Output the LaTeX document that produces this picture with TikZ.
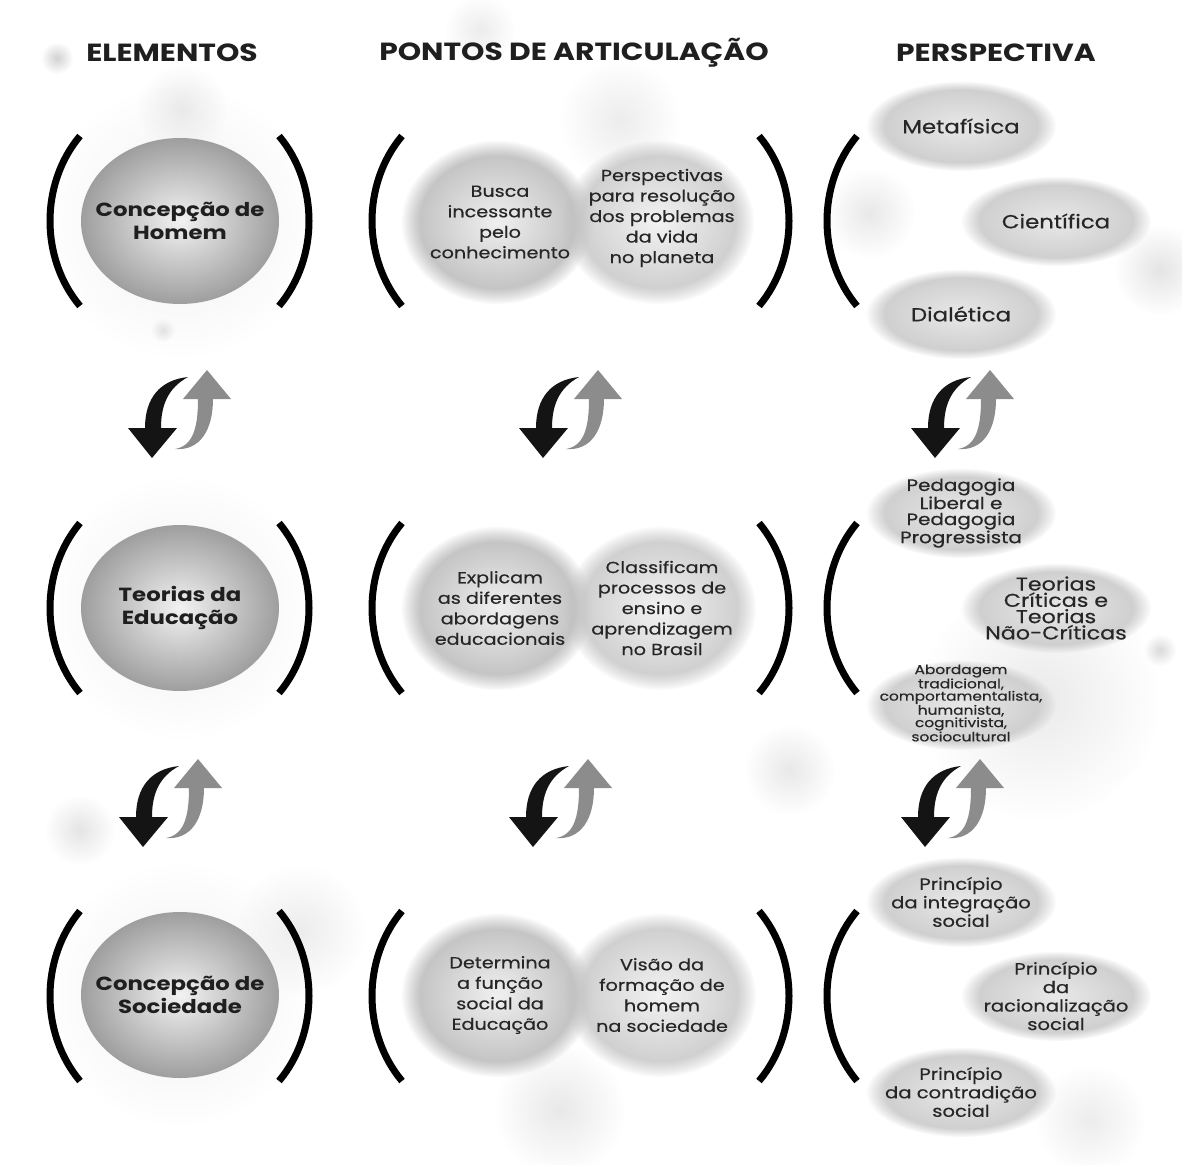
\documentclass[tikz,border=0pt]{standalone}
\usepackage{fontspec}
\setmainfont{Poppins}[FakeStretch=1.2]
\newfontfamily\medf{Poppins}[FakeStretch=1.2,FakeBold=0.5]
\usetikzlibrary{shapes.geometric,fadings}
\tikzfading[name=softbubble, inner color=transparent!20, outer color=transparent!100]
\newcommand\myLpar[3]{\draw[paren] (#1,#2) .. controls ({#1-40},{#2+(#3-#2)*0.28}) and ({#1-40},{#2+(#3-#2)*0.72}) .. (#1,#3);}
\newcommand\myRpar[3]{\draw[paren] (#1,#2) .. controls ({#1+40},{#2+(#3-#2)*0.28}) and ({#1+40},{#2+(#3-#2)*0.72}) .. (#1,#3);}
\newcommand\arrpair[2]{%
\begin{scope}[shift={(#1,#2)}]
\fill[black!92] (188,377) .. controls (160,380) and (145,398) .. (145,428) -- (128,428) -- (152,458) -- (177,428) -- (161,428) .. controls (161,405) and (168,388) .. (188,377) -- cycle;
\fill[black!45] (175,449) .. controls (192,446) and (198,430) .. (198,399) -- (183,399) -- (207,370) -- (231,399) -- (213,399) .. controls (213,430) and (200,451) .. (175,449) -- cycle;
\end{scope}}
\begin{document}
\begin{tikzpicture}[x=1pt,y=-1pt,
  paren/.style={line width=7pt,black},
  bubble/.style={fill=black!#1, path fading=softbubble},
  lcirc/.style={ellipse, minimum width=198pt, minimum height=166pt, inner sep=0pt, shade, inner color=black!5, outer color=black!38},
  ltext/.style={font=\bfseries\fontsize{19}{23}\selectfont, align=center, text=black!88},
  mcirc/.style={ellipse, minimum width=192pt, minimum height=164pt, inner sep=0pt, shade, inner color=black!6, outer color=black!27, path fading=circle with fuzzy edge 20 percent},
  mtext/.style={font=\medf\fontsize{16}{20.5}\selectfont, align=center, text=black!85},
  rell/.style={ellipse, minimum width=190pt, minimum height=90pt, inner sep=0pt, shade, inner color=black!9, outer color=black!21, path fading=circle with fuzzy edge 20 percent},
  rtext/.style={font=\medf\fontsize{16.3}{18.5}\selectfont, align=center, text=black!85},
  head/.style={font=\bfseries\fontsize{24.8}{28}\selectfont, text=black!88}]
\useasboundingbox (0,0) rectangle (1182,1164);
\fill[white] (0,0) rectangle (1182,1164);
% background bubbles
\fill[bubble=22] (57,58) circle (16pt);
\fill[bubble=10] (182,110) circle (45pt);
\fill[bubble=15] (163,330) circle (12pt);
\fill[bubble=9] (620,120) circle (60pt);
\fill[bubble=9] (480,30) circle (35pt);
\fill[bubble=11] (870,213) circle (45pt);
\fill[bubble=13] (1160,270) circle (45pt);
\fill[bubble=18] (1160,650) circle (16pt);
\fill[bubble=10] (1040,700) circle (120pt);
\fill[bubble=11] (790,770) circle (45pt);
\fill[bubble=9] (300,930) circle (65pt);
\fill[bubble=11] (560,1110) circle (65pt);
\fill[bubble=9] (1090,1120) circle (55pt);
\fill[bubble=13] (80,830) circle (35pt);
\fill[bubble=8] (180,222) circle (135pt);
\fill[bubble=8] (180,608) circle (130pt);
\fill[bubble=8] (180,995) circle (130pt);
% headers
\node[head] (h1) at (172,53) {ELEMENTOS};
\node[head] (h2) at (574,53) {PONTOS DE ARTICULAÇÃO};
\node[head] (h3) at (996,53) {PERSPECTIVA};
% left column
\node[lcirc] (l1) at (180,221) {};
\node[lcirc] (l2) at (180,608) {};
\node[lcirc] (l3) at (180,995) {};
\node[ltext] (lt1) at (l1.center) {Concepção de\\Homem};
\node[ltext] (lt2) at (l2.center) {Teorias da\\Educação};
\node[ltext] (lt3) at (l3.center) {Concepção de\\Sociedade};
% middle column
\node[mcirc] (m1a) at (497,222) {};
\node[mcirc, fill opacity=0.8] (m1b) at (658,222) {};
\node[mcirc] (m2a) at (497,608) {};
\node[mcirc, fill opacity=0.8] (m2b) at (660,608) {};
\node[mcirc] (m3a) at (497,995) {};
\node[mcirc, fill opacity=0.8] (m3b) at (660,995) {};
\node[mtext] (mt1a) at (500,222) {Busca\\incessante\\pelo\\conhecimento};
\node[mtext] (mt1b) at (662,218) {Perspectivas\\para resolução\\dos problemas\\da vida\\no planeta};
\node[mtext] (mt2a) at (500,608) {Explicam\\as diferentes\\abordagens\\educacionais};
\node[mtext] (mt2b) at (662,608) {Classificam\\processos de\\ensino e\\aprendizagem\\no Brasil};
\node[mtext] (mt3a) at (500,995) {Determina\\a função\\social da\\Educação};
\node[mtext] (mt3b) at (662,995) {Visão da\\formação de\\homem\\na sociedade};
% right column
\node[rell] (r1a) at (961,126) {};
\node[rell] (r1b) at (1056,221) {};
\node[rell] (r1c) at (961,314) {};
\node[rell] (r2a) at (961,513) {};
\node[rell] (r2b) at (1056,608) {};
\node[rell] (r2c) at (961,705) {};
\node[rell] (r3a) at (961,902) {};
\node[rell] (r3b) at (1056,996) {};
\node[rell] (r3c) at (961,1092) {};
\node[rtext, font=\medf\fontsize{19}{20}\selectfont] (rt1a) at (r1a.center) {Metafísica};
\node[rtext, font=\medf\fontsize{19}{20}\selectfont] (rt1b) at (r1b.center) {Científica};
\node[rtext, font=\medf\fontsize{19}{20}\selectfont] (rt1c) at (r1c.center) {Dialética};
\node[rtext, font=\medf\fontsize{16.6}{16}\selectfont] (rt2a) at (r2a.center) {Pedagogia\\Liberal e\\Pedagogia\\Progressista};
\node[rtext, font=\medf\fontsize{18.5}{16.3}\selectfont] (rt2b) at (r2b.center) {Teorias\\Críticas e\\Teorias\\Não-Críticas};
\node[rtext, font=\medf\fontsize{12.8}{12.4}\selectfont] (rt2c) at (961,703) {Abordagem\\tradicional,\\comportamentalista,\\humanista,\\cognitivista,\\sociocultural};
\node[rtext] (rt3a) at (r3a.center) {Princípio\\da integração\\social};
\node[rtext] (rt3b) at (r3b.center) {Princípio\\da\\racionalização\\social};
\node[rtext] (rt3c) at (r3c.center) {Princípio\\da contradição\\social};
% parentheses
\myLpar{80}{136}{306} \myRpar{279}{136}{306}
\myLpar{80}{523}{693} \myRpar{279}{523}{693}
\myLpar{80}{911}{1081} \myRpar{279}{911}{1081}
\myLpar{402}{136}{306} \myRpar{759}{136}{306}
\myLpar{402}{523}{693} \myRpar{759}{523}{693}
\myLpar{402}{911}{1081} \myRpar{759}{911}{1081}
\myLpar{857}{136}{306}
\myLpar{857}{523}{693}
\myLpar{857}{911}{1081}
% cycle arrows
\arrpair{0}{0}
\arrpair{391}{0}
\arrpair{783}{0}
\arrpair{-9}{389}
\arrpair{381}{389}
\arrpair{773}{389}
\end{tikzpicture}
\end{document}
